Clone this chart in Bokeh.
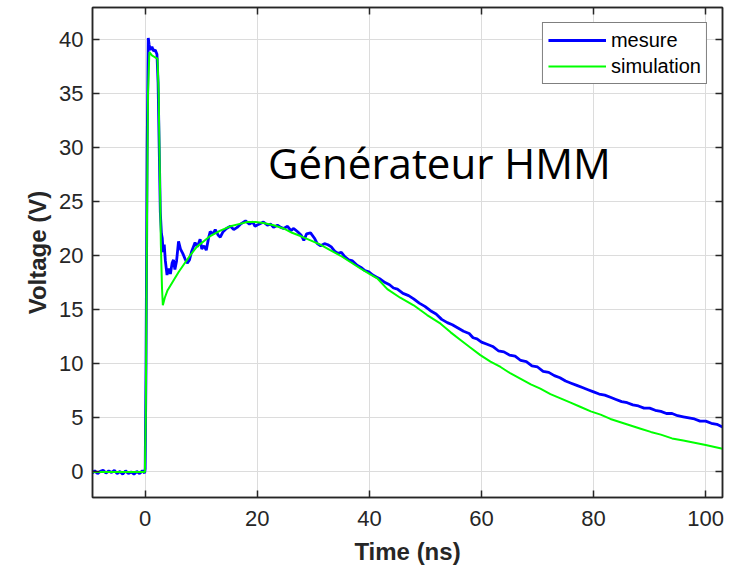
from bokeh.plotting import figure
from bokeh.models import LinearAxis, FixedTicker, Range1d, Label
from bokeh.embed import file_html
from bokeh.resources import INLINE

# ---- data ----
t_mesure = [-9.4, -9.0, -8.5, -8.0, -7.5, -7.0, -6.5, -6.0, -5.5, -5.0, -4.5, -4.0, -3.5, -3.0,
            -2.5, -2.0, -1.5, -1.0, -0.5, -0.1, 0.0, 0.15, 0.35, 0.55, 0.7, 0.9, 1.2, 1.5, 1.8,
            2.1, 2.3, 2.5, 2.7, 2.9, 3.05, 3.2, 3.4, 3.6, 3.9, 4.2, 4.5, 4.8, 5.05, 5.3, 5.6,
            5.95, 6.3, 6.7, 7.1, 7.5, 7.9, 8.3, 8.9, 9.3, 9.8, 10.1, 10.5, 10.9, 11.3, 11.6,
            12.1, 12.5, 13.0, 13.4, 13.9, 14.5, 15.2, 15.8, 16.4, 17.0, 17.9, 18.6, 19.2, 19.6,
            20.3, 21.1, 21.8, 22.4, 22.9, 23.6, 24.2, 24.7, 25.4, 26.0, 26.5, 27.2, 27.8, 28.3,
            28.8, 29.5, 30.2, 30.7, 31.3, 32.0, 32.6, 33.2, 33.8, 34.4, 35.0, 35.6, 36.3, 37.0,
            37.8, 38.5, 39.2, 39.9, 40.6, 41.3, 42.0, 42.8, 43.6, 44.3, 45.0, 46.0, 47.0, 47.9,
            48.9, 49.9, 50.9, 51.9, 52.9, 53.9, 54.8, 55.8, 56.8, 57.8, 58.5, 59.2, 60, 61, 62,
            63, 64, 65, 66, 67, 68, 69, 70, 71, 72, 73, 74, 75, 76, 77, 78, 79, 80, 81, 82, 83,
            84, 85, 86, 87, 88, 89, 90, 91, 92, 93, 94, 95, 96, 97, 98, 99, 100, 101, 102, 103]
v_mesure = [-0.1, 0.1, -0.15, 0.05, 0.15, -0.1, 0.1, -0.05, 0.15, -0.15, 0.05, -0.2, 0.1, -0.15,
            0.0, -0.2, 0.05, -0.15, 0.1, -0.1, 0.3, 10.0, 30.0, 40.1, 39.5, 39.0, 39.3, 38.9, 39.0,
            38.6, 36.0, 30.0, 24.0, 22.0, 21.6, 20.3, 21.0, 19.5, 18.2, 18.8, 18.3, 19.3, 19.6, 18.7, 19.5,
            21.3, 20.6, 20.2, 19.7, 19.3, 19.6, 20.4, 21.2, 20.8, 21.5, 20.6, 20.9, 20.5, 21.6, 22.2,
            22.0, 22.4, 21.9, 21.7, 22.2, 22.5, 22.7, 22.4, 22.6, 22.9, 23.2, 22.9, 23.1, 22.7,
            22.9, 23.1, 22.8, 22.9, 22.6, 22.8, 22.6, 22.5, 22.7, 22.3, 22.5, 22.2, 21.9, 21.4,
            22.0, 22.1, 21.6, 21.1, 20.9, 21.1, 21.0, 20.8, 20.4, 20.2, 20.3, 19.9, 19.6, 19.5,
            19.1, 18.9, 18.6, 18.5, 18.2, 18.0, 17.8, 17.5, 17.3, 17.0, 16.9, 16.5, 16.3, 16.0,
            15.6, 15.3, 14.9, 14.6, 14.1, 13.8, 13.6, 13.3, 13.0, 12.8, 12.4, 12.3, 12.0, 11.8, 11.6,
            11.2, 11.1, 10.8, 10.7, 10.3, 10.2, 9.8, 9.7, 9.3, 9.2, 8.9, 8.7, 8.4, 8.2, 8.0, 7.8, 7.6,
            7.4, 7.2, 7.1, 6.9, 6.7, 6.5, 6.4, 6.2, 6.1, 5.9, 5.9, 5.7, 5.6, 5.4, 5.4, 5.2, 5.1, 5.0,
            4.9, 4.7, 4.7, 4.5, 4.4, 4.15]

t_simulation = [-9.4, -0.05, 0.1, 0.3, 0.5, 0.75, 1.2, 1.8, 2.2, 2.4, 2.6, 2.8, 3.0, 3.15, 3.5,
                4.0, 5.05, 6.0, 6.8, 8.0, 9.2, 10.4, 11.6, 13.4, 15.2, 16.7, 18.2, 19.7, 21.1,
                22.9, 24.7, 26.2, 27.7, 29.5, 31.25, 33.0, 34.8, 36.6, 38.4, 40.0, 41.4, 43.2,
                45.5, 47.9, 50.3, 52.7, 54.5, 56.25, 58.0, 59.8, 61.6, 63.4, 65.2, 67.0, 68.8,
                70.5, 72.3, 74.1, 75.9, 77.7, 79.5, 81.25, 83.0, 84.8, 86.6, 88.4, 90.2, 92.0,
                94.0, 96.0, 98.0, 100.0, 103.0]
v_simulation = [0.0, 0.0, 5.0, 22.0, 35.0, 38.8, 38.5, 38.3, 38.2, 35.0, 28.0, 21.0, 17.0, 15.4, 16.1,
                16.8, 17.7, 18.5, 19.1, 20.0, 20.8, 21.3, 21.8, 22.3, 22.7, 22.9, 23.1, 23.1, 23.0,
                22.8, 22.5, 22.1, 21.8, 21.4, 21.0, 20.5, 20.0, 19.4, 18.8, 18.3, 17.9, 16.9,
                16.1, 15.4, 14.5, 13.7, 12.9, 12.2, 11.5, 10.8, 10.2, 9.7, 9.1, 8.6, 8.1,
                7.7, 7.2, 6.8, 6.4, 6.0, 5.6, 5.3, 4.9, 4.6, 4.3, 4.0, 3.7, 3.45,
                3.1, 2.9, 2.7, 2.5, 2.15]

x_ticks = [0, 20, 40, 60, 80, 100]
y_ticks = [0, 5, 10, 15, 20, 25, 30, 35, 40]
x_limits = (-9.4, 103.0)
y_limits = (-2.36, 42.92)
annotation_text = "Générateur HMM"
annotation_pos = (21.9, 28.6)

AX = "#262626"
FONT = "Liberation Sans"

p = figure(width=737, height=570, output_backend="svg", toolbar_location=None,
           x_range=Range1d(*x_limits), y_range=Range1d(*y_limits),
           min_border_left=92, min_border_right=15, min_border_top=7, min_border_bottom=73,
           x_axis_label="Time (ns)", y_axis_label="Voltage (V)")
p.title.visible = False
p.outline_line_color = AX
p.outline_line_width = 1.5
p.background_fill_color = "white"
p.border_fill_color = "white"

for g in (p.xgrid[0], p.ygrid[0]):
    g.grid_line_color = "#dcdcdc"
    g.grid_line_width = 1
p.xgrid[0].ticker = FixedTicker(ticks=x_ticks)
p.ygrid[0].ticker = FixedTicker(ticks=y_ticks)

def style_axis(ax, ticks, show_labels=True):
    ax.ticker = FixedTicker(ticks=ticks)
    ax.axis_line_color = AX
    ax.axis_line_width = 1.5
    ax.major_tick_line_color = AX
    ax.major_tick_line_width = 1.5
    ax.major_tick_in = 7
    ax.major_tick_out = 0
    ax.minor_tick_in = 0
    ax.minor_tick_out = 0
    if show_labels:
        ax.major_label_text_font = FONT
        ax.major_label_text_font_size = "22px"
        ax.major_label_text_color = AX
        ax.axis_label_text_font = FONT
        ax.axis_label_text_font_size = "24px"
        ax.axis_label_text_font_style = "bold"
        ax.axis_label_text_color = AX
    else:
        ax.major_label_text_font_size = "1px"
        ax.major_label_text_color = None
        ax.major_label_standoff = 0

style_axis(p.xaxis[0], x_ticks)
style_axis(p.yaxis[0], y_ticks)
p.xaxis[0].major_label_standoff = 13
p.xaxis[0].axis_label_standoff = 9
p.yaxis[0].major_label_standoff = 9
p.yaxis[0].axis_label_standoff = 5

right_ax = LinearAxis()
style_axis(right_ax, y_ticks, show_labels=False)
p.add_layout(right_ax, "right")
top_ax = LinearAxis()
style_axis(top_ax, x_ticks, show_labels=False)
p.add_layout(top_ax, "above")

p.line(t_mesure, v_mesure, line_color="#0000ff", line_width=2.8, legend_label="mesure")
p.line(t_simulation, v_simulation, line_color="#00ff00", line_width=2, legend_label="simulation")

p.add_layout(Label(x=annotation_pos[0], y=annotation_pos[1], text=annotation_text,
                   text_font="Open Sans", text_font_size="42px", text_color="black",
                   text_baseline="alphabetic", text_align="left"))

lg = p.legend[0]
lg.location = "top_right"
lg.margin = 15
lg.border_line_color = "black"
lg.border_line_width = 1
lg.background_fill_color = "white"
lg.background_fill_alpha = 1
lg.label_text_font = FONT
lg.label_text_font_size = "20px"
lg.label_text_color = "black"
lg.glyph_width = 58
lg.glyph_height = 24
lg.label_height = 24
lg.label_standoff = 5
lg.padding = 5
lg.spacing = 2

open("out.html", "w").write(file_html(p, INLINE))
